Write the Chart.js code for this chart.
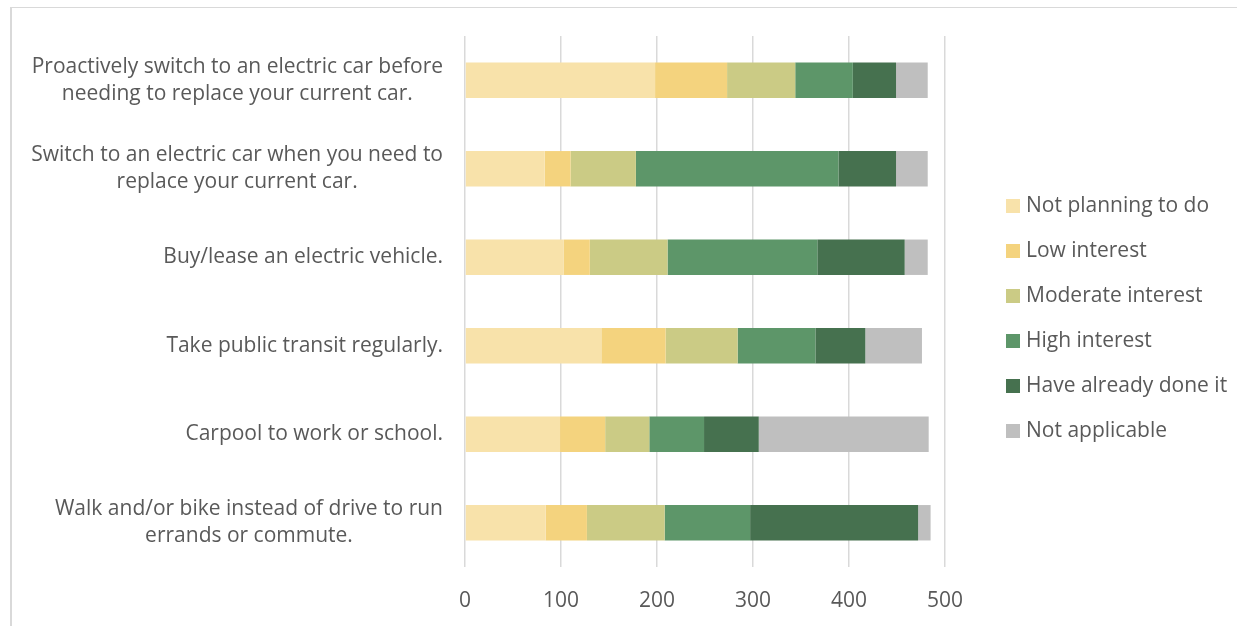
<!DOCTYPE html>
<html>
<head>
<meta charset="utf-8">
<script src="https://cdn.jsdelivr.net/npm/chart.js@4"></script>
<style>
html,body{margin:0;padding:0;background:#fff;}
#wrap{position:relative;width:1237px;height:626px;}
canvas{display:block;}
</style>
</head>
<body>
<div id="wrap"><canvas id="c" width="1237" height="626"></canvas></div>
<script>
const categories = [
  ["Proactively switch to an electric car before", "needing to replace your current car."],
  ["Switch to an electric car when you need to", "replace your current car."],
  ["Buy/lease an electric vehicle."],
  ["Take public transit regularly."],
  ["Carpool to work or school."],
  ["Walk and/or bike instead of drive to run", "errands or commute."]
];
const seriesNames = ["Not planning to do", "Low interest", "Moderate interest", "High interest", "Have already done it", "Not applicable"];
const notPlanning = [198, 83, 103, 142, 99, 84];
const lowInterest = [75, 27, 27, 67, 47, 43];
const moderateInterest = [71, 68, 81, 75, 46, 81];
const highInterest = [60, 211, 156, 81, 57, 89];
const alreadyDone = [45, 60, 91, 52, 57, 175];
const notApplicable = [33, 33, 24, 59, 177, 13];
const xTicks = [0, 100, 200, 300, 400, 500];
const colors = ["#F8E2AA", "#F4D37E", "#CBCB85", "#5D9669", "#46714F", "#BFBFBF"];

const FONT = "'Open Sans', Lato, sans-serif";
const FS = 21;
const TEXT = "#595959";
const seriesValues = [notPlanning, lowInterest, moderateInterest, highInterest, alreadyDone, notApplicable];

const datasets = seriesNames.map((n, i) => ({
  label: n,
  data: seriesValues[i],
  backgroundColor: colors[i],
  borderWidth: 0,
  barPercentage: 0.4,
  categoryPercentage: 1.0
}));

const decor = {
  id: 'decor',
  beforeDraw(chart) {
    const ctx = chart.ctx;
    ctx.save();
    ctx.fillStyle = '#fff';
    ctx.fillRect(0, 0, chart.width, chart.height);
    ctx.strokeStyle = '#d9d9d9';
    ctx.lineWidth = 2;
    ctx.beginPath(); ctx.moveTo(11, 7); ctx.lineTo(11, chart.height + 5); ctx.stroke();
    ctx.lineWidth = 1;
    ctx.beginPath(); ctx.moveTo(10, 7.5); ctx.lineTo(chart.width + 5, 7.5); ctx.stroke();
    ctx.restore();
  },
  afterDraw(chart) {
    const ctx = chart.ctx;
    const y = chart.scales.y;
    ctx.save();
    ctx.font = FS + "px " + FONT;
    ctx.fillStyle = TEXT;
    ctx.textAlign = 'center';
    ctx.textBaseline = 'middle';
    const lh = 27;
    const right = chart.chartArea.left - 22;
    chart.data.labels.forEach((lines, i) => {
      const cy = y.getPixelForValue(i);
      const w = Math.max(...lines.map(l => ctx.measureText(l).width));
      const cx = right - w / 2;
      const y0 = cy - (lines.length - 1) * lh / 2;
      lines.forEach((l, k) => ctx.fillText(l, cx, y0 + k * lh));
    });
    // legend
    const lx = 1006, ly = 206, step = 45;
    ctx.textAlign = 'left';
    chart.data.datasets.forEach((ds, i) => {
      const cy = ly + i * step;
      ctx.fillStyle = ds.backgroundColor;
      ctx.fillRect(lx, cy - 7, 14, 14);
      ctx.fillStyle = TEXT;
      ctx.fillText(ds.label, lx + 20, cy);
    });
    ctx.restore();
  }
};

new Chart(document.getElementById('c'), {
  type: 'bar',
  data: { labels: categories, datasets },
  options: {
    indexAxis: 'y',
    responsive: false,
    animation: false,
    layout: { padding: { top: 36, right: 292, bottom: 0, left: 0 } },
    plugins: { legend: { display: false }, tooltip: { enabled: false } },
    scales: {
      x: {
        stacked: true,
        min: 0, max: 500,
        afterBuildTicks(scale) { scale.ticks = xTicks.map(v => ({ value: v })); },
        afterFit(scale) { scale.height = 59; },
        grid: { color: '#d9d9d9', lineWidth: 1.5, drawTicks: false },
        border: { display: false },
        ticks: { color: TEXT, font: { family: FONT, size: FS }, padding: 21 }
      },
      y: {
        stacked: true,
        afterFit(scale) { scale.width = 465; },
        grid: { display: false },
        border: { display: false },
        ticks: { display: false }
      }
    }
  },
  plugins: [decor]
});
</script>
</body>
</html>
